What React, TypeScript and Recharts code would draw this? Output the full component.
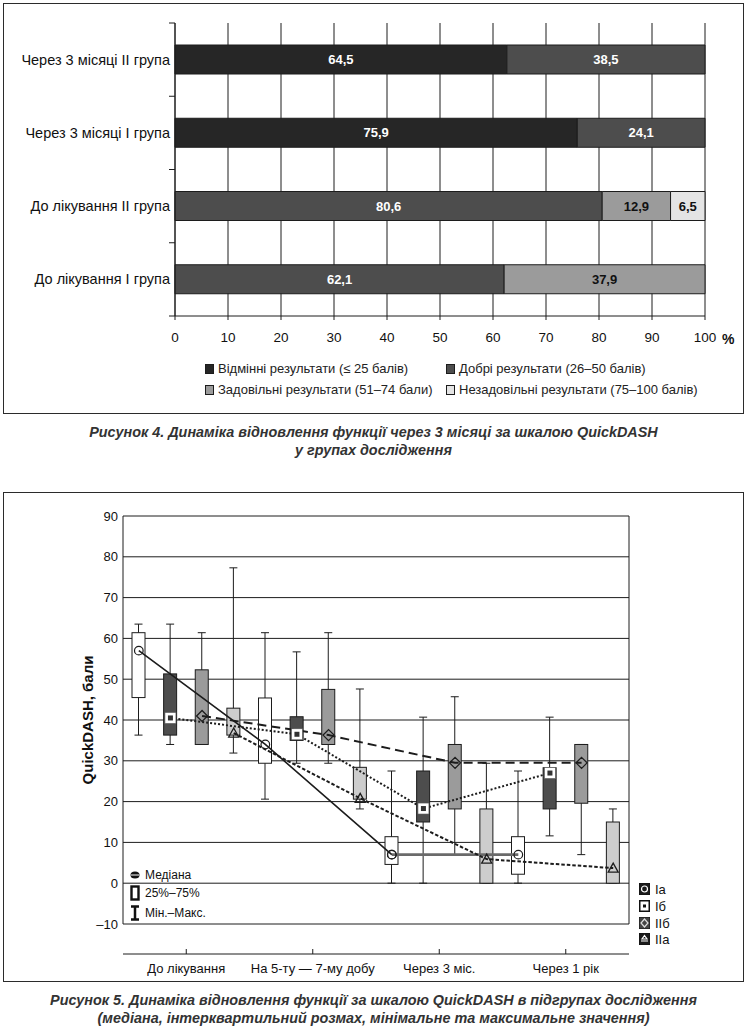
import React from "react";
import {
  Bar,
  BarChart,
  CartesianGrid,
  ComposedChart,
  LabelList,
  Legend,
  Line,
  XAxis,
  YAxis,
} from "recharts";

const SANS = "'Liberation Sans', Arial, sans-serif";
const INK = "#1c1c1c";

// Рисунок 4: stacked shares per group
const stages = [
  "Через 3 місяці II група",
  "Через 3 місяці I група",
  "До лікування II група",
  "До лікування I група",
];
const excellent = [64.5, 75.9, 0, 0];
const good = [38.5, 24.1, 80.6, 62.1];
const satisfactory = [0, 0, 12.9, 37.9];
const unsatisfactory = [0, 0, 6.5, 0];
const percentTicks = [0, 10, 20, 30, 40, 50, 60, 70, 80, 90, 100];

const resultKeys = ["excellent", "good", "satisfactory", "unsatisfactory"];
const resultNames = [
  "Відмінні результати (≤ 25 балів)",
  "Добрі результати (26–50 балів)",
  "Задовільні результати (51–74 бали)",
  "Незадовільні результати (75–100 балів)",
];
const resultFills = ["#262626", "#4d4d4d", "#9b9b9b", "#e4e4e4"];
const resultInk = ["#ffffff", "#ffffff", "#111111", "#111111"];

const stageData = stages.map((stage, i) => ({
  stage,
  excellent: excellent[i],
  good: good[i],
  satisfactory: satisfactory[i],
  unsatisfactory: unsatisfactory[i],
}));

// Рисунок 5: [min, q1, median, q3, max] for each period
const periods = ["До лікування", "На 5-ту — 7-му добу", "Через 3 міс.", "Через 1 рік"];
const groups = ["Ia", "Iб", "IIб", "IIa"];
const boxIa = [
  [36.3, 45.5, 57, 61.4, 63.5],
  [20.6, 29.4, 34, 45.4, 61.4],
  [0, 4.6, 7, 11.4, 27.5],
  [0, 2.2, 7, 11.4, 27.5],
];
const boxIb = [
  [34, 36.3, 40.5, 51.3, 63.5],
  [29.4, 35, 36.5, 40.8, 56.7],
  [0, 15, 18.3, 27.5, 40.7],
  [11.6, 18.2, 27, 28.3, 40.7],
];
const boxIIb = [
  [34, 34, 41, 52.3, 61.4],
  [29.4, 34, 36.3, 47.5, 61.4],
  [7, 18.2, 29.5, 34, 45.7],
  [7, 19.6, 29.5, 34, 34],
];
const boxIIa = [
  [31.9, 36.3, 36.8, 42.9, 77.3],
  [18.2, 20.6, 20.8, 28.4, 47.6],
  [0, 0, 5.9, 18.2, 29.4],
  [0, 0, 3.7, 15, 18.2],
];
const scoreTicks = [-10, 0, 10, 20, 30, 40, 50, 60, 70, 80, 90];

const groupBoxes = [boxIa, boxIb, boxIIb, boxIIa];
const boxFills = ["#ffffff", "#4d4d4d", "#9b9b9b", "#cdcdcd"];
const lineDash = ["", "2 2", "9 5", "3.5 2"];
const lineWidth = [1.6, 2, 2, 2];
const lastPeriod = periods.length - 1;

const slotData = periods.flatMap((period, p) =>
  groups.map((group, g) => {
    const [min, q1, med, q3, max] = groupBoxes[g][p];
    const row: any = { slot: `${p}-${group}`, period, g, span: [min, max], min, q1, med, q3, max };
    groups.forEach((_, k) => {
      row[`m${k}`] = k === g ? med : null;
    });
    // the Ia line turns grey and heavier over its last stretch
    if (g === 0) {
      row.m0 = p < lastPeriod ? med : null;
      row.m0tail = p >= lastPeriod - 1 ? med : null;
    }
    return row;
  })
);

const fmtShare = (v: any) => (v ? String(v).replace(".", ",") : "");

function SText({ x, y, anchor = "start", size = 14, weight = "normal", fill = "#111", dy = "0.35em", children }: any) {
  return (
    <text x={x} y={y} textAnchor={anchor} dy={dy} fontFamily={SANS} fontSize={size} fontWeight={weight} fill={fill}>
      {children}
    </text>
  );
}

function StageTick(props: any) {
  const { x, y, payload } = props;
  const half = payload?.offset || 36.6;
  const ax = x + 5;
  const last = payload?.value === stages[stages.length - 1];
  return (
    <g>
      <line x1={ax} x2={ax - 6} y1={y - half} y2={y - half} stroke={INK} />
      {last && <line x1={ax} x2={ax - 6} y1={y + half} y2={y + half} stroke={INK} />}
      <SText x={x} y={y} anchor="end" size={14.5}>
        {payload.value}
      </SText>
    </g>
  );
}

function PctTick({ x, y, payload }: any) {
  return (
    <SText x={x} y={y} anchor="middle" size={13.5} dy="0.71em">
      {Math.round(payload.value * 100)}
    </SText>
  );
}

const pctLabel = (p: any) => {
  const { x, y, width } = p.viewBox;
  return (
    <SText x={x + width + 17} y={y + 23} size={14} weight="bold">
      %
    </SText>
  );
};

const shareLabel = (ink: string) => (p: any) => {
  const { x, y, width, height, value } = p;
  const txt = fmtShare(value);
  if (!txt) return <g />;
  return (
    <SText x={x + width / 2} y={y + height / 2} anchor="middle" size={13} weight="bold" fill={ink}>
      {txt}
    </SText>
  );
};

function ResultsLegend() {
  return (
    <div
      style={{
        display: "grid",
        gridTemplateColumns: "241px auto",
        rowGap: 4,
        fontFamily: SANS,
        fontSize: 13,
        color: "#222",
        lineHeight: "17px",
        whiteSpace: "nowrap",
      }}
    >
      {resultNames.map((name, i) => (
        <div key={name} style={{ display: "flex", alignItems: "center" }}>
          <span
            style={{
              width: 9,
              height: 10,
              flex: "none",
              background: resultFills[i],
              border: `1px solid ${INK}`,
              marginRight: 4,
              boxSizing: "border-box",
            }}
          />
          {name}
        </div>
      ))}
    </div>
  );
}

function BoxShape(props: any) {
  const { x, y, width, height, payload } = props;
  if (!payload || height == null || Number.isNaN(height)) return <g />;
  const { min, q1, q3, max, g } = payload;
  const k = height / (max - min);
  const py = (v: number) => y + (max - v) * k;
  const cx = x + width / 2;
  return (
    <g>
      <line x1={cx} x2={cx} y1={py(max)} y2={py(min)} stroke={INK} strokeWidth={1} />
      <line x1={cx - 4} x2={cx + 4} y1={py(max)} y2={py(max)} stroke={INK} strokeWidth={1} />
      <line x1={cx - 4} x2={cx + 4} y1={py(min)} y2={py(min)} stroke={INK} strokeWidth={1} />
      <rect x={x} y={py(q3)} width={width} height={py(q1) - py(q3)} fill={boxFills[g]} stroke={INK} strokeWidth={1} />
    </g>
  );
}

function MedianMark({ g, cx, cy }: any) {
  if (g === 0) return <circle cx={cx} cy={cy} r={4.3} fill="none" stroke={INK} strokeWidth={1.2} />;
  if (g === 1)
    return (
      <g>
        <rect x={cx - 5.5} y={cy - 5.5} width={11} height={11} fill="#fff" stroke="#555" strokeWidth={0.6} />
        <rect x={cx - 2.5} y={cy - 2.5} width={5} height={5} fill="#333" />
      </g>
    );
  if (g === 2)
    return (
      <path d={`M${cx},${cy - 5.5}L${cx + 5.5},${cy}L${cx},${cy + 5.5}L${cx - 5.5},${cy}Z`} fill="none" stroke={INK} strokeWidth={1.3} />
    );
  return <path d={`M${cx},${cy - 5}L${cx + 5},${cy + 4}L${cx - 5},${cy + 4}Z`} fill="none" stroke={INK} strokeWidth={1.3} />;
}

const makeDot = (g: number) => (props: any) => {
  const { cx, cy, value, index } = props;
  if (value == null || cx == null || cy == null) return <g key={`d${g}-${index}`} />;
  return <MedianMark key={`d${g}-${index}`} g={g} cx={cx} cy={cy} />;
};

function PeriodTick({ x, y, payload }: any) {
  return (
    <g>
      <line x1={x} x2={x} y1={y} y2={y - 5} stroke={INK} />
      <SText x={x} y={y + 14} anchor="middle" size={13}>
        {payload.value}
      </SText>
    </g>
  );
}

function TopTick({ x, y }: any) {
  return <line x1={x} x2={x} y1={y} y2={y + 5} stroke={INK} />;
}

function ScoreTick({ x, y, payload }: any) {
  const v = payload.value;
  return (
    <SText x={x} y={y} anchor="end" size={13}>
      {v < 0 ? `–${Math.abs(v)}` : String(v)}
    </SText>
  );
}

const yTitle = (p: any) => {
  const { x, y, width, height } = p.viewBox;
  const cx = x + width - 35;
  const cy = y + height / 2;
  return (
    <text x={cx} y={cy} transform={`rotate(-90 ${cx} ${cy})`} textAnchor="middle" dy="0.35em" fontFamily={SANS} fontWeight="bold" fontSize={15} fill="#111">
      QuickDASH, бали
    </text>
  );
};

const xTitle = (p: any) => {
  const { x, y, width } = p.viewBox;
  return (
    <text x={x + width / 2} y={y + 42} dy="0.35em" textAnchor="middle" fontFamily={SANS} fontWeight="bold" fontSize={15} fill="#111">
      Період
    </text>
  );
};

function LegendGlyph({ kind }: { kind: number }) {
  if (kind === 0)
    return (
      <svg width={10} height={8}>
        <ellipse cx={5} cy={4} rx={4.5} ry={3.5} fill="#111" />
        <line x1={1} x2={9} y1={4} y2={4} stroke="#fff" strokeWidth={1} />
      </svg>
    );
  if (kind === 1)
    return (
      <svg width={10} height={16}>
        <rect x={1.5} y={1.5} width={7} height={13} fill="#fff" stroke="#111" strokeWidth={2.4} />
      </svg>
    );
  return (
    <svg width={10} height={16}>
      <path d="M1,1.5H9M5,1.5V14.5M1,14.5H9" stroke="#111" strokeWidth={2.5} fill="none" />
    </svg>
  );
}

function GroupGlyph({ g }: { g: number }) {
  const bg = g === 2 ? "#444" : "#1a1a1a";
  return (
    <svg width={11} height={12} style={{ flex: "none" }}>
      <rect x={0} y={0} width={11} height={12} fill={g === 1 ? "#fff" : bg} stroke="#111" strokeWidth={g === 1 ? 3 : 1} />
      {g === 0 && <circle cx={5.5} cy={6} r={3} fill="none" stroke="#fff" strokeWidth={1.2} />}
      {g === 1 && <rect x={4} y={4.5} width={3} height={3} fill="#111" />}
      {g === 2 && <path d="M5.5,2L9,6L5.5,10L2,6Z" fill="none" stroke="#ddd" strokeWidth={1.2} />}
      {g === 3 && <path d="M2,8H9M5.5,2.5L8,6H3Z" fill="none" stroke="#fff" strokeWidth={1.2} />}
    </svg>
  );
}

function BoxLegend() {
  const rowStyle: React.CSSProperties = {
    position: "absolute",
    display: "flex",
    alignItems: "center",
    height: 18,
    fontFamily: SANS,
    color: "#111",
    whiteSpace: "nowrap",
  };
  const keyRows = ["Медіана", "25%–75%", "Мін.–Макс."];
  const keyTops = [386, 404, 424];
  const groupTops = [400, 417, 434, 450];
  return (
    <div style={{ position: "relative", width: 747, height: 490 }}>
      {keyRows.map((label, i) => (
        <div key={label} style={{ ...rowStyle, left: 130, top: keyTops[i], fontSize: 12 }}>
          <LegendGlyph kind={i} />
          <span style={{ marginLeft: 5 }}>{label}</span>
        </div>
      ))}
      {groups.map((gname, g) => (
        <div key={gname} style={{ ...rowStyle, left: 639, top: groupTops[g], fontSize: 13 }}>
          <GroupGlyph g={g} />
          <span style={{ marginLeft: 5 }}>{gname}</span>
        </div>
      ))}
    </div>
  );
}

const frame: React.CSSProperties = {
  position: "absolute",
  left: 3,
  width: 741,
  border: "1.5px solid #2b2b2b",
  boxSizing: "border-box",
};

const caption: React.CSSProperties = {
  position: "absolute",
  left: 0,
  width: 747,
  height: 18,
  textAlign: "center",
  fontFamily: SANS,
  fontWeight: "bold",
  fontStyle: "italic",
  fontSize: 14.4,
  lineHeight: "18px",
  color: "#333",
  whiteSpace: "nowrap",
};

export default function App() {
  return (
    <div style={{ position: "absolute", left: 0, top: 0, width: 747, height: 1034, background: "#fff" }}>
      <div style={{ ...frame, top: 3, height: 411 }} />
      <div style={{ position: "absolute", left: 0, top: 0 }}>
        <BarChart
          width={747}
          height={420}
          data={stageData}
          layout="vertical"
          stackOffset="expand"
          margin={{ top: 23, right: 42, bottom: 74, left: 0 }}
        >
          <CartesianGrid horizontal={false} stroke={INK} strokeWidth={1} />
          <XAxis
            type="number"
            domain={[0, 1]}
            ticks={percentTicks.map((t) => t / 100)}
            height={30}
            tickSize={4}
            tickMargin={12}
            axisLine={{ stroke: INK }}
            tickLine={{ stroke: INK }}
            tick={<PctTick />}
            label={pctLabel}
          />
          <YAxis
            type="category"
            dataKey="stage"
            width={175}
            tickLine={false}
            tickSize={0}
            tickMargin={5}
            axisLine={{ stroke: INK }}
            tick={<StageTick />}
            interval={0}
          />
          {resultKeys.map((key, i) => (
            <Bar
              key={key}
              dataKey={key}
              name={resultNames[i]}
              stackId="share"
              fill={resultFills[i]}
              stroke={INK}
              strokeWidth={1}
              barSize={29}
              isAnimationActive={false}
            >
              <LabelList dataKey={key} content={shareLabel(resultInk[i])} />
            </Bar>
          ))}
          <Legend
            layout="horizontal"
            verticalAlign="middle"
            align="center"
            content={<ResultsLegend />}
            wrapperStyle={{ left: 205, top: 360, width: 520, height: 42 }}
          />
        </BarChart>
      </div>
      <div style={{ ...caption, top: 423 }}>
        Рисунок 4. Динаміка відновлення функції через 3 місяці за шкалою QuickDASH
      </div>
      <div style={{ ...caption, top: 441 }}>у групах дослідження</div>

      <div style={{ ...frame, top: 492, height: 490 }} />
      <div style={{ position: "absolute", left: 0, top: 480 }}>
        <ComposedChart width={747} height={500} data={slotData} margin={{ top: 36, right: 117, bottom: 0, left: 0 }}>
          <CartesianGrid vertical={false} stroke={INK} strokeWidth={1} />
          <XAxis dataKey="slot" hide />
          <XAxis
            xAxisId="period"
            dataKey="period"
            allowDuplicatedCategory={false}
            height={56}
            tickSize={0}
            tickMargin={0}
            tickLine={false}
            axisLine={{ stroke: INK }}
            tick={<PeriodTick />}
            interval={0}
            label={xTitle}
          />
          <XAxis
            xAxisId="top"
            orientation="top"
            dataKey="period"
            allowDuplicatedCategory={false}
            height={0}
            tickSize={0}
            tickMargin={0}
            tickLine={false}
            axisLine={{ stroke: INK }}
            tick={<TopTick />}
            interval={0}
          />
          <YAxis
            type="number"
            domain={[-10, 90]}
            ticks={scoreTicks}
            width={123}
            tickLine={false}
            tickSize={0}
            tickMargin={5}
            axisLine={{ stroke: INK }}
            tick={<ScoreTick />}
            label={yTitle}
          />
          <YAxis
            yAxisId="right"
            orientation="right"
            type="number"
            domain={[-10, 90]}
            ticks={scoreTicks}
            width={1}
            tick={false}
            tickLine={false}
            axisLine={{ stroke: INK }}
          />
          <Bar dataKey="span" barSize={13} shape={<BoxShape />} isAnimationActive={false} />
          <Line
            dataKey="m0tail"
            name="Ia"
            legendType="none"
            type="linear"
            stroke="#6a6a6a"
            strokeWidth={2.6}
            connectNulls
            dot={makeDot(0)}
            activeDot={false}
            isAnimationActive={false}
          />
          {groups.map((gname, g) => (
            <Line
              key={gname}
              dataKey={`m${g}`}
              name={gname}
              type="linear"
              stroke={INK}
              strokeWidth={lineWidth[g]}
              strokeDasharray={lineDash[g]}
              connectNulls
              dot={makeDot(g)}
              activeDot={false}
              isAnimationActive={false}
            />
          ))}
          <Legend
            layout="horizontal"
            verticalAlign="middle"
            align="center"
            content={<BoxLegend />}
            wrapperStyle={{ left: 0, top: 0, width: 747, height: 490, pointerEvents: "none" }}
          />
        </ComposedChart>
      </div>
      <div style={{ ...caption, top: 991 }}>
        Рисунок 5. Динаміка відновлення функції за шкалою QuickDASH в підгрупах дослідження
      </div>
      <div style={{ ...caption, top: 1009 }}>
        (медіана, інтерквартильний розмах, мінімальне та максимальне значення)
      </div>
    </div>
  );
}
